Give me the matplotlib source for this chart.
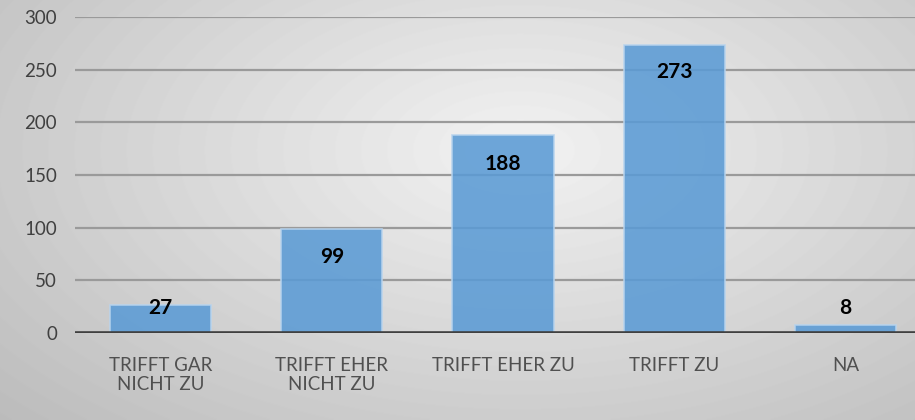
import matplotlib.pyplot as plt
import numpy as np

kategorien = ['TRIFFT GAR\nNICHT ZU', 'TRIFFT EHER\nNICHT ZU', 'TRIFFT EHER ZU', 'TRIFFT ZU', 'NA']
werte = [27, 99, 188, 273, 8]
yticks = [0, 50, 100, 150, 200, 250, 300]
# label offset in pixels (negative = inside bar from top)
offsets = [-3, -28, -29, -27, 17]

plt.rcParams['font.family'] = ['Lato', 'DejaVu Sans']

fig = plt.figure(figsize=(9.15, 4.2), dpi=100)

# radial gray background
bg = fig.add_axes([0, 0, 1, 1], zorder=-10)
yy, xx = np.mgrid[0:420, 0:915]
r = np.sqrt(((xx - 520) / 600.0) ** 2 + ((yy - 150) / 330.0) ** 2)
bg.imshow(0.95 - 0.18 * np.clip(r, 0, 1.3), cmap='gray', vmin=0, vmax=1, aspect='auto')
bg.axis('off')

ax = fig.add_axes([75 / 915, 1 - 333 / 420, 856 / 915, 316 / 420])
ax.patch.set_alpha(0)
x = np.arange(len(werte))
ax.bar(x, werte, width=0.59, color='#5b9bd5', alpha=0.88, edgecolor='#b8d4ee', linewidth=1.2, zorder=3)
ax.set_ylim(0, 300)
ax.set_xlim(-0.5, len(werte) - 0.5)
ax.set_yticks(yticks)
ax.yaxis.grid(True, color='#9a9a9a', linewidth=1.6, zorder=1)
ax.axhline(0, color='#404040', linewidth=2.6, zorder=4)
for s in ax.spines.values():
    s.set_visible(False)
ax.tick_params(length=0)
ax.tick_params(axis='y', labelsize=13.5, labelcolor='#404040', pad=13)
ax.set_xticks(x)
ax.set_xticklabels(kategorien, fontsize=13.5, color='#505050', linespacing=1.2)
ax.tick_params(axis='x', pad=17)
for xi, w, o in zip(x, werte, offsets):
    ax.annotate(str(w), (xi, w), xytext=(0, o * 0.72), textcoords='offset points',
                ha='center', va='center', fontsize=15, fontweight='bold', color='black', zorder=5)

plt.savefig('out.png', dpi=100)
